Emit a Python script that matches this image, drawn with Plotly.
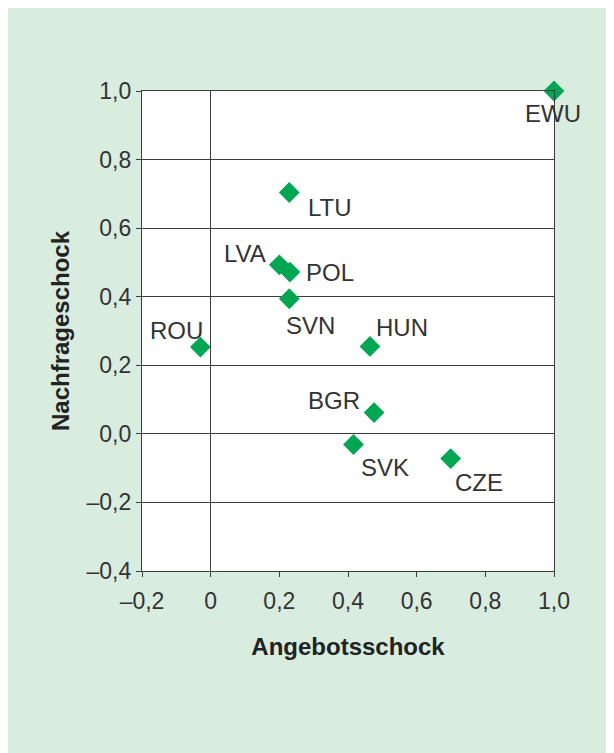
import plotly.graph_objects as go

countries = ["EWU", "LTU", "LVA", "POL", "SVN", "ROU", "HUN", "BGR", "SVK", "CZE"]
angebot = [1.00, 0.229, 0.200, 0.231, 0.229, -0.030, 0.464, 0.476, 0.416, 0.699]
nachfrage = [1.00, 0.704, 0.493, 0.472, 0.394, 0.253, 0.255, 0.062, -0.031, -0.072]

x_ticks = [-0.2, 0, 0.2, 0.4, 0.6, 0.8, 1.0]
x_ticklabels = ["\u20130,2", "0", "0,2", "0,4", "0,6", "0,8", "1,0"]
y_ticks = [-0.4, -0.2, 0, 0.2, 0.4, 0.6, 0.8, 1.0]
y_ticklabels = ["\u20130,4", "\u20130,2", "0,0", "0,2", "0,4", "0,6", "0,8", "1,0"]

# label pixel offsets (style)
label_shift = {
    "EWU": (-1, -22), "LTU": (41, -15), "LVA": (-34, 11), "POL": (40, 0),
    "SVN": (21, -27), "ROU": (-24, 17), "HUN": (32, 19), "BGR": (-40, 12),
    "SVK": (32, -23), "CZE": (28, -24),
}

FONT = "Liberation Sans, Arial, sans-serif"
TXT = "#333333"
LINE = "#3c3c3c"
GREEN_BG = "#d8ecdf"

fig = go.Figure()
fig.add_trace(go.Scatter(
    x=angebot, y=nachfrage, mode="markers",
    marker=dict(symbol="diamond", size=16, color="#00a651", line=dict(width=0)),
    cliponaxis=False, hoverinfo="skip", showlegend=False,
))

for c, xv, yv in zip(countries, angebot, nachfrage):
    dx, dy = label_shift[c]
    fig.add_annotation(x=xv, y=yv, text=c, showarrow=False, xshift=dx, yshift=dy,
                       font=dict(family=FONT, size=24, color=TXT),
                       xanchor="center", yanchor="middle")

fig.update_xaxes(
    range=[-0.2, 1.0], tickvals=x_ticks, ticktext=x_ticklabels,
    showgrid=False, zeroline=True, zerolinecolor=LINE, zerolinewidth=1.3,
    showline=True, linecolor=LINE, linewidth=1.3, mirror=True,
    ticks="outside", ticklen=5, tickcolor=LINE, tickwidth=1.3,
    ticklabelstandoff=4,
    tickfont=dict(family=FONT, size=23, color=TXT),
    title=dict(text="<b>Angebotsschock</b>", font=dict(family=FONT, size=24, color="#222222"), standoff=25),
)
fig.update_yaxes(
    range=[-0.4, 1.0], tickvals=y_ticks, ticktext=y_ticklabels,
    showgrid=True, gridcolor=LINE, gridwidth=1.3,
    zeroline=True, zerolinecolor=LINE, zerolinewidth=1.3,
    showline=True, linecolor=LINE, linewidth=1.3, mirror=True,
    ticks="outside", ticklen=5, tickcolor=LINE, tickwidth=1.3,
    tickfont=dict(family=FONT, size=23, color=TXT),
    title=dict(text="<b>Nachfrageschock</b>", font=dict(family=FONT, size=24, color="#222222"), standoff=10),
)

fig.update_layout(
    width=606, height=745,
    margin=dict(l=134, r=60, t=83, b=182, autoexpand=False),
    paper_bgcolor=GREEN_BG, plot_bgcolor="white",
)

fig.write_html("out.html")
